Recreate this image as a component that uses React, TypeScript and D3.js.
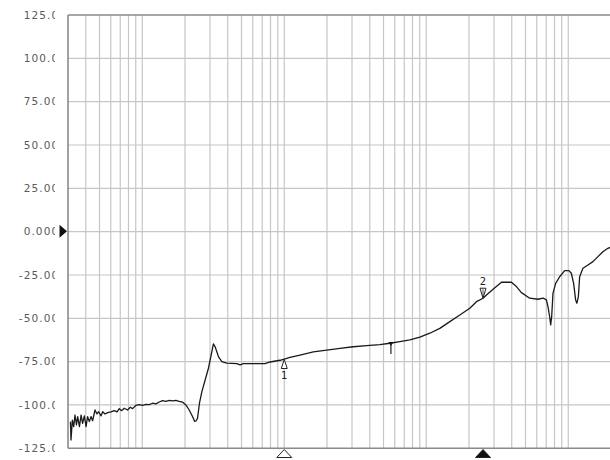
import React from "react";
import * as d3 from "d3";

// Frequency (Hz) and magnitude (dB) of the trace
const freqHz = [
  0.312, 0.315, 0.322, 0.329, 0.336, 0.344, 0.351, 0.361, 0.371, 0.380, 0.391, 0.402, 0.412, 0.424,
  0.436, 0.447, 0.465, 0.480, 0.493, 0.513, 0.526, 0.547, 0.570, 0.603, 0.636, 0.664, 0.689, 0.715,
  0.747, 0.788, 0.823, 0.855, 0.903, 0.953, 1.005, 1.062, 1.12, 1.181, 1.248, 1.317, 1.389, 1.468,
  1.549, 1.634, 1.726, 1.82, 1.92, 2.029, 2.141, 2.259, 2.34, 2.398, 2.449, 2.529, 2.63, 2.773,
  2.925, 3.041, 3.171, 3.26, 3.44, 3.634, 3.94, 4.3, 4.634, 4.889, 5.157, 6.133, 7.328, 7.947,
  9.343, 10.98, 12.92, 16.02, 19.9, 24.69, 30.61, 38.03, 47.18, 55.46, 65.22, 76.68, 90.16, 106,
  124.6, 146.6, 172.3, 202.6, 225.8, 251.2, 265.6, 295.5, 338.4, 398.1, 431.5, 468, 535.4, 612.3,
  663.8, 701.5, 719.9, 739.9, 752, 764.2, 780.4, 815.3, 869.9, 943.2, 1011, 1051, 1091, 1127,
  1151, 1178, 1203, 1269, 1376, 1492, 1618, 1754, 1902, 1990,
];
const magDb = [
  -109.6, -120.2, -108.7, -112.5, -105.8, -111.5, -106.7, -112.5, -105.8, -110.6, -106.3, -112.5, -106.7, -109.6,
  -106.7, -109.1, -102.9, -105.2, -103.9, -106.3, -103.9, -105.2, -104.4, -104.0, -103.3, -104.0, -102.1, -103.3,
  -101.9, -102.9, -101.3, -102.1, -100.2, -99.8, -100.2, -99.6, -99.8, -99.0, -99.4, -98.3, -97.5, -97.9,
  -97.3, -97.7, -97.3, -97.9, -98.3, -100.0, -102.9, -106.7, -109.5, -109.1, -107.7, -99.0, -92.3, -85.6,
  -78.8, -72.1, -64.8, -66.4, -72.1, -75.0, -75.9, -76.0, -76.2, -76.9, -76.2, -76.2, -76.2, -75.2,
  -74.2, -72.5, -71.2, -69.4, -68.3, -67.3, -66.4, -65.8, -65.2, -64.4, -63.5, -62.5, -60.9, -58.6,
  -55.8, -51.9, -48.1, -44.2, -40.4, -38.4, -36.5, -33.3, -29.2, -29.2, -31.7, -35.2, -38.4, -39.0,
  -38.3, -39.4, -43.3, -49.1, -53.8, -49.1, -35.6, -29.8, -26.0, -22.5, -22.5, -24.0, -29.8, -39.4,
  -41.3, -37.5, -26.0, -21.1, -19.2, -17.3, -14.4, -11.6, -9.6, -9.0,
];

const yTickValues = [125, 100, 75, 50, 25, 0, -25, -50, -75, -100, -125];
const yTickLabels = [
  "125.00", "100.00", "75.000", "50.000", "25.000", "0.0000",
  "-25.000", "-50.000", "-75.000", "-100.00", "-125.00",
];
const xDomain = [0.3, 2000];
const yDomain = [-125, 125];
const refLevelDb = 0;

const traceMarkerFreqs = [10, 251];
const traceMarkerNames = ["1", "2"];
const bottomMarkerFreqs = [10, 251];
const refMarkerFreq = 56.4;

const W = 610;
const H = 460;
const left = 68;
const right = 611;
const top = 15;
const bottom = 448.3;

export default function App() {
  const x = d3.scaleLog().domain(xDomain).range([left, right]);
  const y = d3.scaleLinear().domain(yDomain).range([bottom, top]);

  const gridX: number[] = [];
  for (let e = -1; e <= 3; e++) {
    for (let k = 1; k <= 9; k++) {
      const v = k * Math.pow(10, e);
      if (v > xDomain[0] * 1.001 && v < xDomain[1]) gridX.push(v);
    }
  }

  const pts = freqHz.map((f, i) => [f, magDb[i]] as [number, number]);
  const line = d3
    .line<[number, number]>()
    .x((d) => x(d[0]))
    .y((d) => y(d[1]));

  const bis = d3.bisector((d: [number, number]) => d[0]).left;
  const valAt = (f: number) => {
    const i = Math.max(1, Math.min(pts.length - 1, bis(pts, f)));
    const a = pts[i - 1];
    const b = pts[i];
    const t = (Math.log(f) - Math.log(a[0])) / (Math.log(b[0]) - Math.log(a[0]));
    return a[1] + t * (b[1] - a[1]);
  };

  const font = "'DejaVu Sans', Verdana, sans-serif";
  const gridColor = "#c6c6c6";
  const frameColor = "#8a8a8a";

  return (
    <svg
      width={W}
      height={H}
      style={{ position: "absolute", left: 0, top: 0, background: "#fff" }}
    >
      <defs>
        <clipPath id="lblclip">
          <rect x={0} y={0} width={55} height={H} />
        </clipPath>
        <clipPath id="plotclip">
          <rect x={left} y={top - 2} width={W - left} height={bottom - top + 4} />
        </clipPath>
      </defs>

      {/* vertical grid */}
      {gridX.map((v, i) => (
        <line
          key={"gx" + i}
          x1={x(v)}
          x2={x(v)}
          y1={top}
          y2={bottom}
          stroke={gridColor}
          strokeWidth={1.2}
        />
      ))}
      {/* horizontal grid */}
      {yTickValues.slice(1, -1).map((v, i) => (
        <line
          key={"gy" + i}
          x1={left}
          x2={W}
          y1={y(v)}
          y2={y(v)}
          stroke={gridColor}
          strokeWidth={1.2}
        />
      ))}

      {/* frame */}
      <line x1={left} x2={W} y1={top} y2={top} stroke={frameColor} strokeWidth={1.6} />
      <line x1={left} x2={W} y1={bottom} y2={bottom} stroke={frameColor} strokeWidth={1.6} />
      <line x1={left} x2={left} y1={top} y2={bottom} stroke={frameColor} strokeWidth={1.6} />

      {/* y tick labels */}
      <g clipPath="url(#lblclip)">
        {yTickValues.map((v, i) => (
          <text
            key={"yl" + i}
            x={67}
            y={y(v)}
            dy="0.36em"
            textAnchor="end"
            fontFamily={font}
            fontSize={10.5}
            letterSpacing={1.1}
            fill="#5a5a5a"
          >
            {yTickLabels[i]}
          </text>
        ))}
      </g>

      {/* reference level arrow */}
      <path
        d={`M59.5,${y(refLevelDb) - 7} L67,${y(refLevelDb) - 0.5} L59.5,${y(refLevelDb) + 6} Z`}
        fill="#111"
      />

      {/* trace */}
      <g clipPath="url(#plotclip)">
        <path d={line(pts) || ""} fill="none" stroke="#1a1a1a" strokeWidth={1.3} strokeLinejoin="round" />
      </g>

      {/* trace marker 1 (below, pointing up) */}
      {(() => {
        const f = traceMarkerFreqs[0];
        const cx = x(f);
        const cy = y(valAt(f)) + 0.5;
        return (
          <g>
            <path
              d={`M${cx},${cy} L${cx + 3},${cy + 9} L${cx - 3},${cy + 9} Z`}
              fill="#fff"
              stroke="#222"
              strokeWidth={1}
            />
            <text x={cx} y={cy + 19.5} textAnchor="middle" fontFamily={font} fontSize={10} fill="#222">
              {traceMarkerNames[0]}
            </text>
          </g>
        );
      })()}

      {/* trace marker 2 (above, pointing down) */}
      {(() => {
        const f = traceMarkerFreqs[1];
        const cx = x(f);
        const cy = y(valAt(f));
        return (
          <g>
            <path
              d={`M${cx},${cy} L${cx + 3},${cy - 10} L${cx - 3},${cy - 10} Z`}
              fill="#fff"
              stroke="#222"
              strokeWidth={1}
            />
            <line x1={cx} x2={cx} y1={cy - 9} y2={cy - 2} stroke="#222" strokeWidth={0.8} />
            <text x={cx} y={cy - 13} textAnchor="middle" fontFamily={font} fontSize={10} fill="#222">
              {traceMarkerNames[1]}
            </text>
          </g>
        );
      })()}

      {/* reference marker tick */}
      {(() => {
        const cx = x(refMarkerFreq);
        const cy = y(valAt(refMarkerFreq));
        return (
          <g>
            <path d={`M${cx - 2.5},${cy - 1} L${cx + 2.5},${cy - 1} L${cx},${cy + 3} Z`} fill="#111" />
            <line x1={cx} x2={cx} y1={cy} y2={cy + 11} stroke="#222" strokeWidth={1.2} />
          </g>
        );
      })()}

      {/* bottom markers */}
      {bottomMarkerFreqs.map((f, i) => {
        const cx = x(f);
        return (
          <path
            key={"bm" + i}
            d={`M${cx},${449.5} L${cx + 7.5},${457.5} L${cx - 7.5},${457.5} Z`}
            fill={i === 0 ? "#fff" : "#111"}
            stroke="#222"
            strokeWidth={1}
          />
        );
      })}
    </svg>
  );
}
